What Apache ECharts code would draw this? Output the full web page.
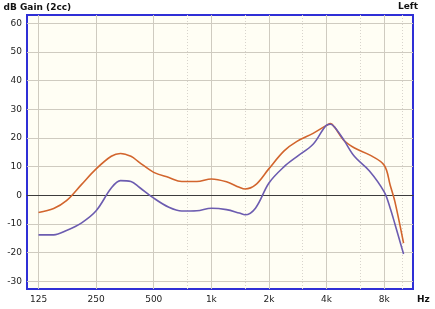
<!DOCTYPE html>
<html><head><meta charset="utf-8">
<script src="https://cdn.jsdelivr.net/npm/echarts@6/dist/echarts.min.js"></script>
<style>html,body{margin:0;padding:0;background:#fff}#c{width:435px;height:309px}</style>
</head><body><div id="c"></div>
<script>
// Frequencies (Hz) at which the curves were read
const freqs = [125,150,175,210,250,300,335,380,420,500,600,700,840,1000,1200,1400,1500,1700,2000,2400,2800,3400,4000,4200,4400,4900,5600,6700,8000,8600,9100,10100];
// Upper (orange) curve, dB gain
const orangeGain = [-6.0,-4.6,-1.9,3.8,9.2,13.6,14.6,13.6,11.5,8.0,6.2,4.8,4.8,5.7,4.7,2.8,2.2,3.6,9.3,15.5,18.8,21.6,24.4,25.0,23.8,19.3,16.5,14.1,10.5,3.5,-2.2,-16.7];
// Lower (purple) curve, dB gain
const purpleGain = [-13.8,-13.8,-12.3,-9.6,-5.4,2.5,5.1,4.8,2.8,-1.0,-4.2,-5.5,-5.4,-4.5,-5.0,-6.2,-6.8,-4.5,4.3,10.0,13.5,17.8,24.5,24.8,23.8,19.5,13.5,8.5,1.2,-4.5,-10.0,-20.5];
// Axis ticks
const xTickFreqs = [125,250,500,1000,2000,4000,8000];
const xTickLabels = ['125','250','500','1k','2k','4k','8k'];
const xMinorFreqs = [750,1500,3000,6000,10000];
const yTicks = [-30,-20,-10,0,10,20,30,40,50,60];

const REF = 125;
const oct = f => Math.log2(f / REF);
const toPts = g => freqs.map((f, i) => [oct(f), g[i]]);
const labelMap = {};
xTickFreqs.forEach((f, i) => { labelMap[oct(f).toFixed(4)] = xTickLabels[i]; });

const FONT = 'DejaVu Sans';
const chart = echarts.init(document.getElementById('c'), null, {renderer: 'canvas'});
chart.setOption({
  animation: false,
  backgroundColor: '#ffffff',
  title: [{text: 'Left', right: 12, top: -3, textStyle: {fontFamily: FONT, fontSize: 9, fontWeight: 'bold', color: '#111'}}],
  grid: {left: 27, right: 22, top: 15, bottom: 20, containLabel: false, outerBoundsMode: 'none',
    show: true, backgroundColor: '#fffef4', borderColor: '#2f2fd6', borderWidth: 2},
  xAxis: [{
    type: 'value', min: -0.2, max: 6.5,
    name: 'Hz', nameLocation: 'end', nameGap: 4,
    nameTextStyle: {fontFamily: FONT, fontSize: 9, fontWeight: 'bold', color: '#111', verticalAlign: 'top', padding: [6, 0, 0, 0]},
    axisLine: {show: false, onZero: false},
    axisTick: {show: false, customValues: xTickFreqs.map(oct)},
    axisLabel: {customValues: xTickFreqs.map(oct), fontFamily: FONT, fontSize: 9, color: '#222', margin: 6,
      formatter: v => labelMap[v.toFixed(4)] || ''},
    splitLine: {show: true, lineStyle: {color: '#cfcbc0', width: 1}}
  }, {
    type: 'value', min: -0.2, max: 6.5, position: 'bottom',
    axisLine: {show: true, onZero: true, lineStyle: {color: '#3c3c3c', width: 1}},
    axisTick: {show: false, customValues: xMinorFreqs.map(oct)},
    axisLabel: {show: false},
    splitLine: {show: true, lineStyle: {color: '#d8d4cc', width: 1, type: [1, 2]}}
  }],
  yAxis: {
    type: 'value', min: -32.7, max: 62.9,
    name: 'dB Gain (2cc)', nameLocation: 'end', nameGap: 3,
    nameTextStyle: {fontFamily: FONT, fontSize: 9, fontWeight: 'bold', color: '#111', align: 'left', padding: [0, 0, 0, -35]},
    axisLine: {show: false},
    axisTick: {show: false, customValues: yTicks},
    axisLabel: {customValues: yTicks, fontFamily: FONT, fontSize: 9, color: '#222', margin: 5},
    splitLine: {show: true, lineStyle: {color: '#cfcbc0', width: 1}}
  },
  series: [{
    type: 'line', name: 'upper', data: toPts(orangeGain), smooth: 0.35, symbol: 'none',
    lineStyle: {color: '#d2652d', width: 1.6}
  }, {
    type: 'line', name: 'lower', data: toPts(purpleGain), smooth: 0.35, symbol: 'none',
    lineStyle: {color: '#6c5cb0', width: 1.6}
  }]
});
</script></body></html>
